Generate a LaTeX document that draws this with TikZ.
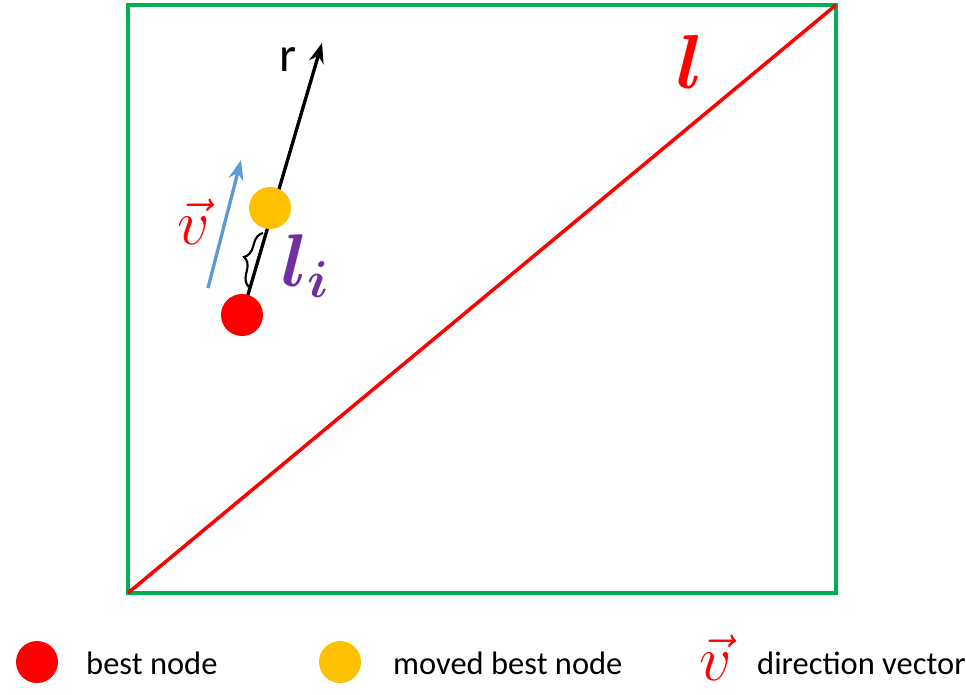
\documentclass[tikz,border=0pt]{standalone}
\usepackage{fontspec}
\setmainfont{Carlito}
\usepackage{bm}
\usetikzlibrary{arrows.meta,decorations.pathreplacing}
\definecolor{frame}{HTML}{00B050}
\definecolor{bestred}{HTML}{FF0000}
\definecolor{movedyel}{HTML}{FFC000}
\definecolor{dirblue}{HTML}{5B9BD5}
\definecolor{lipurple}{HTML}{7030A0}
\begin{document}
\begin{tikzpicture}[
  x=0.02cm, y=-0.02cm,
  dot/.style={
    circle, inner sep=0pt,
    minimum size=0.84cm
  },
  legtxt/.style={anchor=west, font=\fontsize{18.5}{22}\selectfont},
  bigmath/.style={font=\fontsize{20.74}{24}\selectfont, scale=#1},
  ray/.style={line width=1.9pt, -{Stealth[length=4mm,width=3mm]}}
]
\useasboundingbox (0,0) rectangle (966,694);

% --- Frame and line l ---
\coordinate (sw) at (128,593);
\coordinate (ne) at (836,5);
\draw[frame, line width=2pt] (sw) rectangle (ne);
\draw[bestred, line width=2pt] (sw) -- (ne);
\node[text=bestred, bigmath=2.1] (lab) at (690,62) {$\bm{l}$};

% --- Nodes and ray r ---
\coordinate (rtip) at (322,43);
\node[dot] (best) at (242,315) {};
\draw[ray] (best.center) -- (rtip);
\node[dot, fill=bestred] at (best) {};
\node[dot, fill=movedyel] (moved) at (270,208) {};
\node[font=\fontsize{28}{30}\selectfont] (r) at (288,60) {r};

% --- Direction vector v ---
\coordinate (vbot) at (208,288);
\coordinate (vtop) at (241,160);
\draw[dirblue, ray] (vbot) -- (vtop);
\node[text=bestred, bigmath=1.75] (v) at (194,222) {$\vec{v}$};

% --- Step l_i ---
\coordinate (bb) at (249,287);
\coordinate (bt) at (263,233);
\draw[decorate, decoration={brace, amplitude=7pt}, line width=1.2pt] (bb) -- (bt);
\node[text=lipurple, bigmath=2.05] (li) at (306,266) {$\bm{l_i}$};

% --- Legend ---
\node[dot, fill=bestred] (kbest) at (37,662) {};
\node[legtxt] at (80,663) {best node};
\node[dot, fill=movedyel] (kmoved) at (340,662) {};
\node[legtxt] at (387,663) {moved best node};
\node[text=bestred, bigmath=1.75] (kv) at (716,658) {$\vec{v}$};
\node[legtxt] at (751,663) {direction vector};
\end{tikzpicture}
\end{document}
